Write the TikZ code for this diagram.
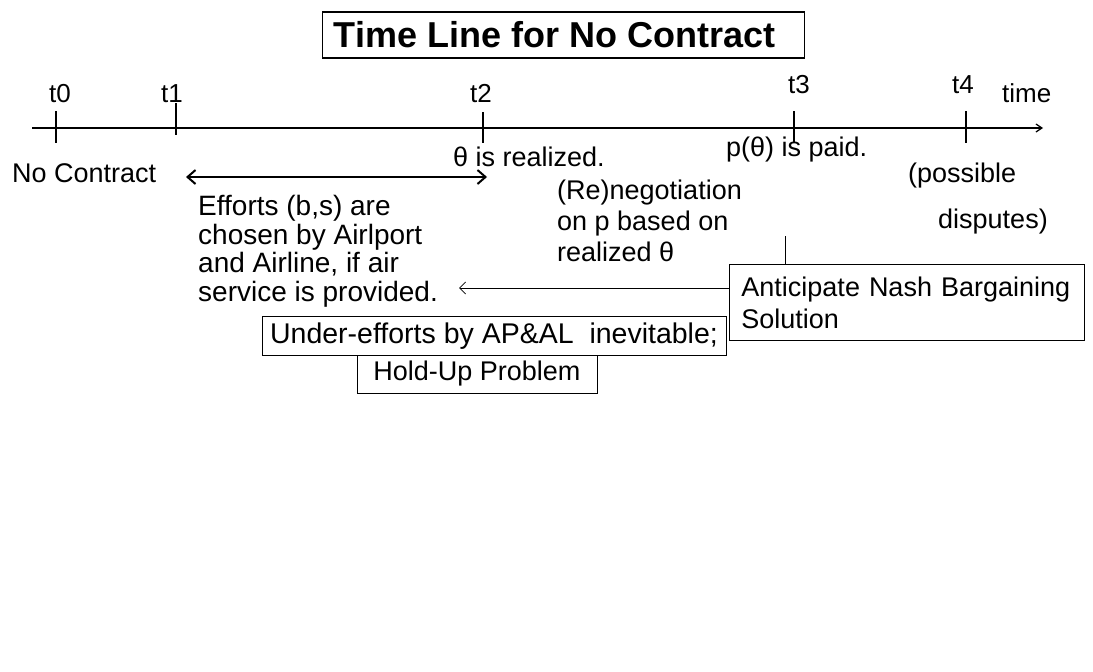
\documentclass[tikz,border=0pt]{standalone}
\usepackage{fontspec}
\setmainfont{Liberation Sans}
\usetikzlibrary{arrows.meta}
\begin{document}
\begin{tikzpicture}[x=1pt,y=-1pt,
  txt/.style={font=\fontsize{27}{28}\selectfont, inner sep=0pt},
  lbl/.style={txt, anchor=base west, align=left},
  ticklbl/.style={txt, font=\fontsize{26}{28}\selectfont, anchor=base},
  axis/.style={line width=1.6pt},
  tickmark/.style={line width=1.6pt},
  frame/.style={draw, line width=0.9pt, txt, inner sep=0pt},
  thin/.style={line width=0.8pt}
]
\useasboundingbox (0,0) rectangle (1093,672);

% heading
\node[frame, line width=1.2pt, font=\fontsize{36}{38}\selectfont\bfseries,
      anchor=west, minimum width=482pt, minimum height=46pt] (title) at (322,35)
  {Time Line for No Contract\kern18pt\null};

% time axis
\coordinate (axisS) at (32,128);
\coordinate (axisE) at (1043,128);
\draw[axis, -{Straight Barb[length=6pt,width=8pt,line width=1.2pt]}] (axisS) -- (axisE);
\node[ticklbl, anchor=base west] (time) at (1002,102) {time};

% ticks and their labels
\coordinate (k0a) at (56,111);  \coordinate (k0b) at (56,143);
\coordinate (k1a) at (176,103); \coordinate (k1b) at (176,135);
\coordinate (k2a) at (483,112); \coordinate (k2b) at (483,143);
\coordinate (k3a) at (794,111); \coordinate (k3b) at (794,142);
\coordinate (k4a) at (966,111); \coordinate (k4b) at (966,143);
\foreach \k in {0,...,4}{\draw[tickmark] (k\k a) -- (k\k b);}
\node[ticklbl] (t0) at (60,102) {t0};
\node[ticklbl] (t1) at (172,102) {t1};
\node[ticklbl] (t2) at (481,102) {t2};
\node[ticklbl] (t3) at (799,93) {t3};
\node[ticklbl] (t4) at (963,93) {t4};

% events below the axis
\node[lbl] (nocon) at (12,182) {No Contract};
\coordinate (effL) at (186,177);
\coordinate (effR) at (487,177);
\draw[line width=2.4pt, {Straight Barb[length=8pt,width=14pt,line width=2pt]}-{Straight Barb[length=8pt,width=14pt,line width=2pt]}] (effL) -- (effR);
\node[lbl] (theta) at (453,166) {θ is realized.};
\node[lbl] (paid) at (726,156) {p(θ) is paid.};
\node[lbl] (poss) at (908,182) {(possible};
\node[lbl] (disp) at (938,228) {disputes)};
\node[lbl, font=\fontsize{27}{31}\selectfont] (reneg) at (557,261)
  {(Re)negotiation\\on p based on\\realized θ};
\node[lbl, font=\fontsize{28}{28.5}\selectfont] (effort) at (198,301)
  {Efforts (b,s) are\\chosen by Airlport\\and Airline, if air\\service is provided.};

% boxed conclusions
\node[frame, anchor=north west, align=left, text width=331pt, inner xsep=12pt,
      font=\fontsize{27}{32}\selectfont, minimum height=76pt] (nash) at (729,264)
  {Anticipate Nash Bargaining\\Solution};
\node[frame, font=\fontsize{28.5}{30}\selectfont, minimum width=464pt, minimum height=39pt] (under) at (494,336)
  {Under-efforts by AP\&AL\ \ inevitable;};
\node[frame, minimum width=240pt, minimum height=38pt] (holdup) at (477,374)
  {Hold-Up Problem};

% connectors
\coordinate (upend) at (785,236);
\draw[thin] (nash.north west -| upend) -- (upend);
\coordinate (backend) at (459,288);
\draw[thin, -{Straight Barb[length=6pt,width=12pt,line width=0.8pt]}] (nash.west |- backend) -- (backend);
\end{tikzpicture}
\end{document}
